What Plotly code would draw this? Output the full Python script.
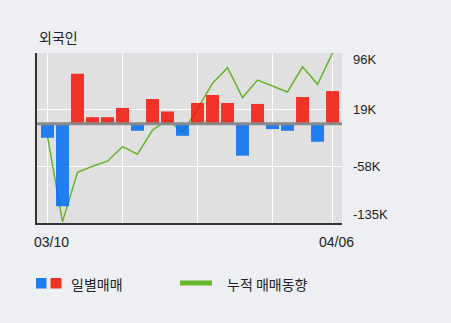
import plotly.graph_objects as go

# Trading days (MM/DD)
dates = ["03/10", "03/11", "03/12", "03/13", "03/16", "03/17", "03/18", "03/19",
         "03/20", "03/23", "03/24", "03/25", "03/26", "03/27", "03/30", "03/31",
         "04/01", "04/02", "04/03", "04/06"]

# Daily net foreign trading (shares)
daily = [-19200, -112400, 67800, 8800, 8800, 21400, -9700, 33500, 16500, -16500,
         28100, 38900, 28100, -43500, 26800, -7400, -9700, 36200, -24600, 44300]

# Cumulative trading trend (shares)
cumulative = [-17300, -133500, -66000, -57800, -51000, -31300, -41600, -8800, 5100, -11900,
              20000, 55000, 76100, 35400, 59200, 51000, 43000, 77300, 53400, 96000]

# Right-hand axis ticks
tick_vals = [96000, 19000, -58000, -135000]
tick_text = ["96K", "19K", "-58K", "-135K"]
tick_nudge = [-6, 0, 0, 9]   # keep the end labels inside the plot height

# Labelled dates on the x axis
date_ticks = [dates[0], dates[5], dates[10], dates[15], dates[19]]
date_text = ["03/10", "", "", "", "04/06"]

UP = "#f3140a"
DOWN = "#006cf3"
LINE = "#66b32e"
NUM_FONT = "Liberation Sans, Arial, sans-serif"
KR_FONT = "Noto Sans CJK KR, sans-serif"

# plot area in pixels (for placing the hand-drawn legend)
L, R, T, B = 37, 342, 53, 223


def px_x(p):
    return (p - L) / (R - L)


def px_y(p):
    return (B - p) / (B - T)


y_range = [min(tick_vals), max(tick_vals)]

fig = go.Figure()

fig.add_trace(go.Scatter(
    x=dates, y=cumulative, mode="lines", yaxis="y",
    line=dict(color=LINE, width=1.5), showlegend=False, hoverinfo="skip",
))

fig.add_trace(go.Bar(
    x=dates, y=daily, yaxis="y2",
    marker=dict(color=[UP if v >= 0 else DOWN for v in daily], line=dict(width=0)),
    opacity=0.85, showlegend=False, hoverinfo="skip",
))

annotations = []
for v, t, s in zip(tick_vals, tick_text, tick_nudge):
    annotations.append(dict(
        x=1, xref="paper", xanchor="left", xshift=9,
        y=v, yref="y", yanchor="middle", yshift=s,
        text=t, showarrow=False, font=dict(family=NUM_FONT, size=13, color="#222"),
    ))

annotations.append(dict(
    x=0, xref="paper", xanchor="left", y=1, yref="paper", yanchor="middle", yshift=16,
    text="외국인", showarrow=False, font=dict(family=KR_FONT, size=14, color="#222"),
))
annotations.append(dict(
    x=px_x(69), xref="paper", xanchor="left", y=px_y(283.5), yref="paper", yanchor="middle",
    text="일별매매", showarrow=False, font=dict(family=KR_FONT, size=14, color="#222"),
))
annotations.append(dict(
    x=px_x(225), xref="paper", xanchor="left", y=px_y(283.5), yref="paper", yanchor="middle",
    text="누적 매매동향", showarrow=False, font=dict(family=KR_FONT, size=14, color="#222"),
))

shapes = [
    dict(type="line", xref="paper", x0=0, x1=1, yref="y", y0=0, y1=0,
         line=dict(color="#8a8a8a", width=3), layer="above"),
    dict(type="rect", xref="paper", yref="paper",
         x0=px_x(36), x1=px_x(46.5), y0=px_y(288.5), y1=px_y(278),
         fillcolor="#1e7ef0", line=dict(width=0)),
    dict(type="rect", xref="paper", yref="paper",
         x0=px_x(50.5), x1=px_x(61.5), y0=px_y(288.5), y1=px_y(278),
         fillcolor="#ef3222", line=dict(width=0)),
    dict(type="line", xref="paper", yref="paper",
         x0=px_x(180), x1=px_x(212), y0=px_y(283), y1=px_y(283),
         line=dict(color="#66b82a", width=5)),
]

fig.update_layout(
    width=451, height=323,
    margin=dict(l=L, r=451 - R, t=T, b=323 - B, pad=0),
    paper_bgcolor="#eeeff3", plot_bgcolor="#e0e0e0",
    bargap=2 / 15,
    xaxis=dict(
        type="category", range=[-0.7, 19.63],
        tickvals=date_ticks, ticktext=date_text, ticks="",
        ticklabelshift=4, ticklabelstandoff=5,
        showgrid=True, gridcolor="#ffffff", gridwidth=1.2,
        showline=True, linecolor="#333333", linewidth=2,
        zeroline=False, tickfont=dict(family=NUM_FONT, size=14, color="#222"),
    ),
    yaxis=dict(
        range=y_range, tickvals=tick_vals, showticklabels=False, ticks="",
        showgrid=True, gridcolor="#ffffff", gridwidth=1.2,
        showline=True, linecolor="#333333", linewidth=2, zeroline=False,
    ),
    yaxis2=dict(
        range=y_range, overlaying="y", side="right", showgrid=False,
        showticklabels=False, showline=False, zeroline=False, ticks="",
    ),
    annotations=annotations,
    shapes=shapes,
)

fig.write_html("out.html")
